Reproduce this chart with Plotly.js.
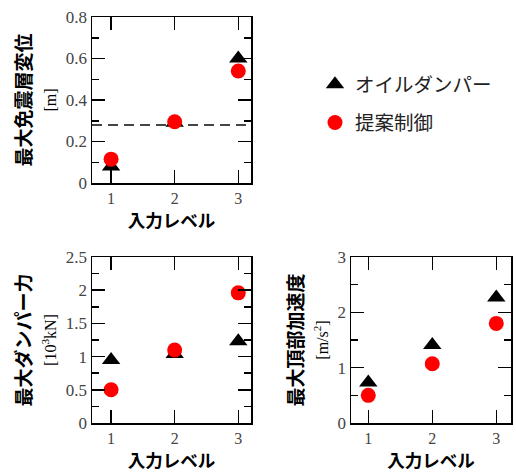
<!DOCTYPE html>
<html>
<head>
<meta charset="utf-8">
<script src="https://cdn.plot.ly/plotly-3.0.1.min.js"></script>
<style>html,body{margin:0;padding:0;background:#fff;}#chart{width:516px;height:472px;}</style>
</head>
<body>
<div id="chart"></div>
<script>
// ---- data ----
const levels = [1, 2, 3];
const seriesNames = ['オイルダンパー', '提案制御'];
// max isolation-layer displacement [m]
const dispOil = [0.08, 0.29, 0.60];
const dispProp = [0.115, 0.295, 0.54];
const dispLimit = 0.28;
// max damper force [10^3 kN]
const forceOil = [0.95, 1.04, 1.23];
const forceProp = [0.5, 1.1, 1.96];
// max top acceleration [m/s^2]
const accOil = [0.73, 1.41, 2.27];
const accProp = [0.5, 1.07, 1.8];

const xTitle = '入力レベル';
const yTitles = [
  ['最大免震層変位', '[m]'],
  ['最大ダンパー力', '[10<sup>3</sup>kN]'],
  ['最大頂部加速度', '[m/s<sup>2</sup>]']
];

// ---- styles ----
const serif = 'Liberation Serif';
const cjk = 'Noto Sans CJK JP';
const triStyle = {symbol: 'triangle-up', size: 16, color: '#000'};
const dotStyle = {symbol: 'circle', size: 15, color: '#ff0000'};

function ytitle(t) {
  return t[0] + '<br><span style="font-family:Liberation Serif;font-size:16px;font-weight:normal">' + t[1] + '</span>';
}

const traces = [];
const sets = [
  [dispOil, dispProp, 'x', 'y'],
  [forceOil, forceProp, 'x2', 'y2'],
  [accOil, accProp, 'x3', 'y3']
];
sets.forEach((s, i) => {
  traces.push({x: levels, y: s[0], xaxis: s[2], yaxis: s[3], type: 'scatter', mode: 'markers',
    marker: triStyle, name: seriesNames[0], legendgroup: 'a', showlegend: i === 0, cliponaxis: false});
  traces.push({x: levels, y: s[1], xaxis: s[2], yaxis: s[3], type: 'scatter', mode: 'markers',
    marker: dotStyle, name: seriesNames[1], legendgroup: 'b', showlegend: i === 0, cliponaxis: false});
});

function xax(domain, range, anchor) {
  return {domain: domain, range: range, anchor: anchor, tickvals: levels, ticks: 'inside', ticklen: 13,
    tickwidth: 1.5, tickcolor: '#000', mirror: 'ticks', showline: true, linecolor: '#000', linewidth: 1.5,
    showgrid: false, zeroline: false, tickfont: {family: serif, size: 16, color: '#444'},
    title: {text: xTitle, font: {family: cjk, size: 17.5, color: '#000', weight: 'bold'}, standoff: 9}};
}
function yax(domain, range, dtick, minor, anchor, t) {
  return {domain: domain, range: range, anchor: anchor, dtick: dtick, tick0: 0, ticks: 'inside', ticklen: 13,
    tickwidth: 1.5, tickcolor: '#000', mirror: 'ticks', showline: true, linecolor: '#000', linewidth: 1.5,
    showgrid: false, zeroline: false, tickfont: {family: serif, size: 17, color: '#444'},
    minor: {dtick: minor, ticks: 'inside', ticklen: 7, tickwidth: 1.5, tickcolor: '#000', showgrid: false},
    title: {text: ytitle(t), font: {family: cjk, size: 19, color: '#000', weight: 'bold'}, standoff: 4}};
}

const W = 516, H = 472;
const layout = {
  width: W, height: H, margin: {l: 0, r: 0, t: 0, b: 0}, paper_bgcolor: '#fff', plot_bgcolor: '#fff',
  showlegend: true,
  xaxis: xax([92 / W, 251 / W], [0.7, 3.2], 'y'),
  yaxis: yax([1 - 183 / H, 1 - 17 / H], [0, 0.8], 0.2, 0.1, 'x', yTitles[0]),
  xaxis2: xax([92 / W, 251 / W], [0.7, 3.2], 'y2'),
  yaxis2: yax([1 - 423 / H, 1 - 257 / H], [0, 2.5], 0.5, 0.25, 'x2', yTitles[1]),
  xaxis3: xax([351 / W, 511 / W], [0.73, 3.23], 'y3'),
  yaxis3: yax([1 - 423 / H, 1 - 257 / H], [0, 3], 1, 0.5, 'x3', yTitles[2]),
  legend: {x: 315 / W, y: 1 - 65 / H, xanchor: 'left', yanchor: 'top', bgcolor: 'rgba(0,0,0,0)',
    font: {family: cjk, size: 19.5, color: '#222'}, traceorder: 'grouped', tracegroupgap: 10},
  shapes: [{type: 'line', xref: 'x domain', yref: 'y', x0: 0, x1: 1, y0: dispLimit, y1: dispLimit,
    line: {color: '#444', width: 2, dash: '10px,6px'}, layer: 'below'}]
};

Plotly.newPlot('chart', traces, layout, {displayModeBar: false, staticPlot: true});
</script>
</body>
</html>
